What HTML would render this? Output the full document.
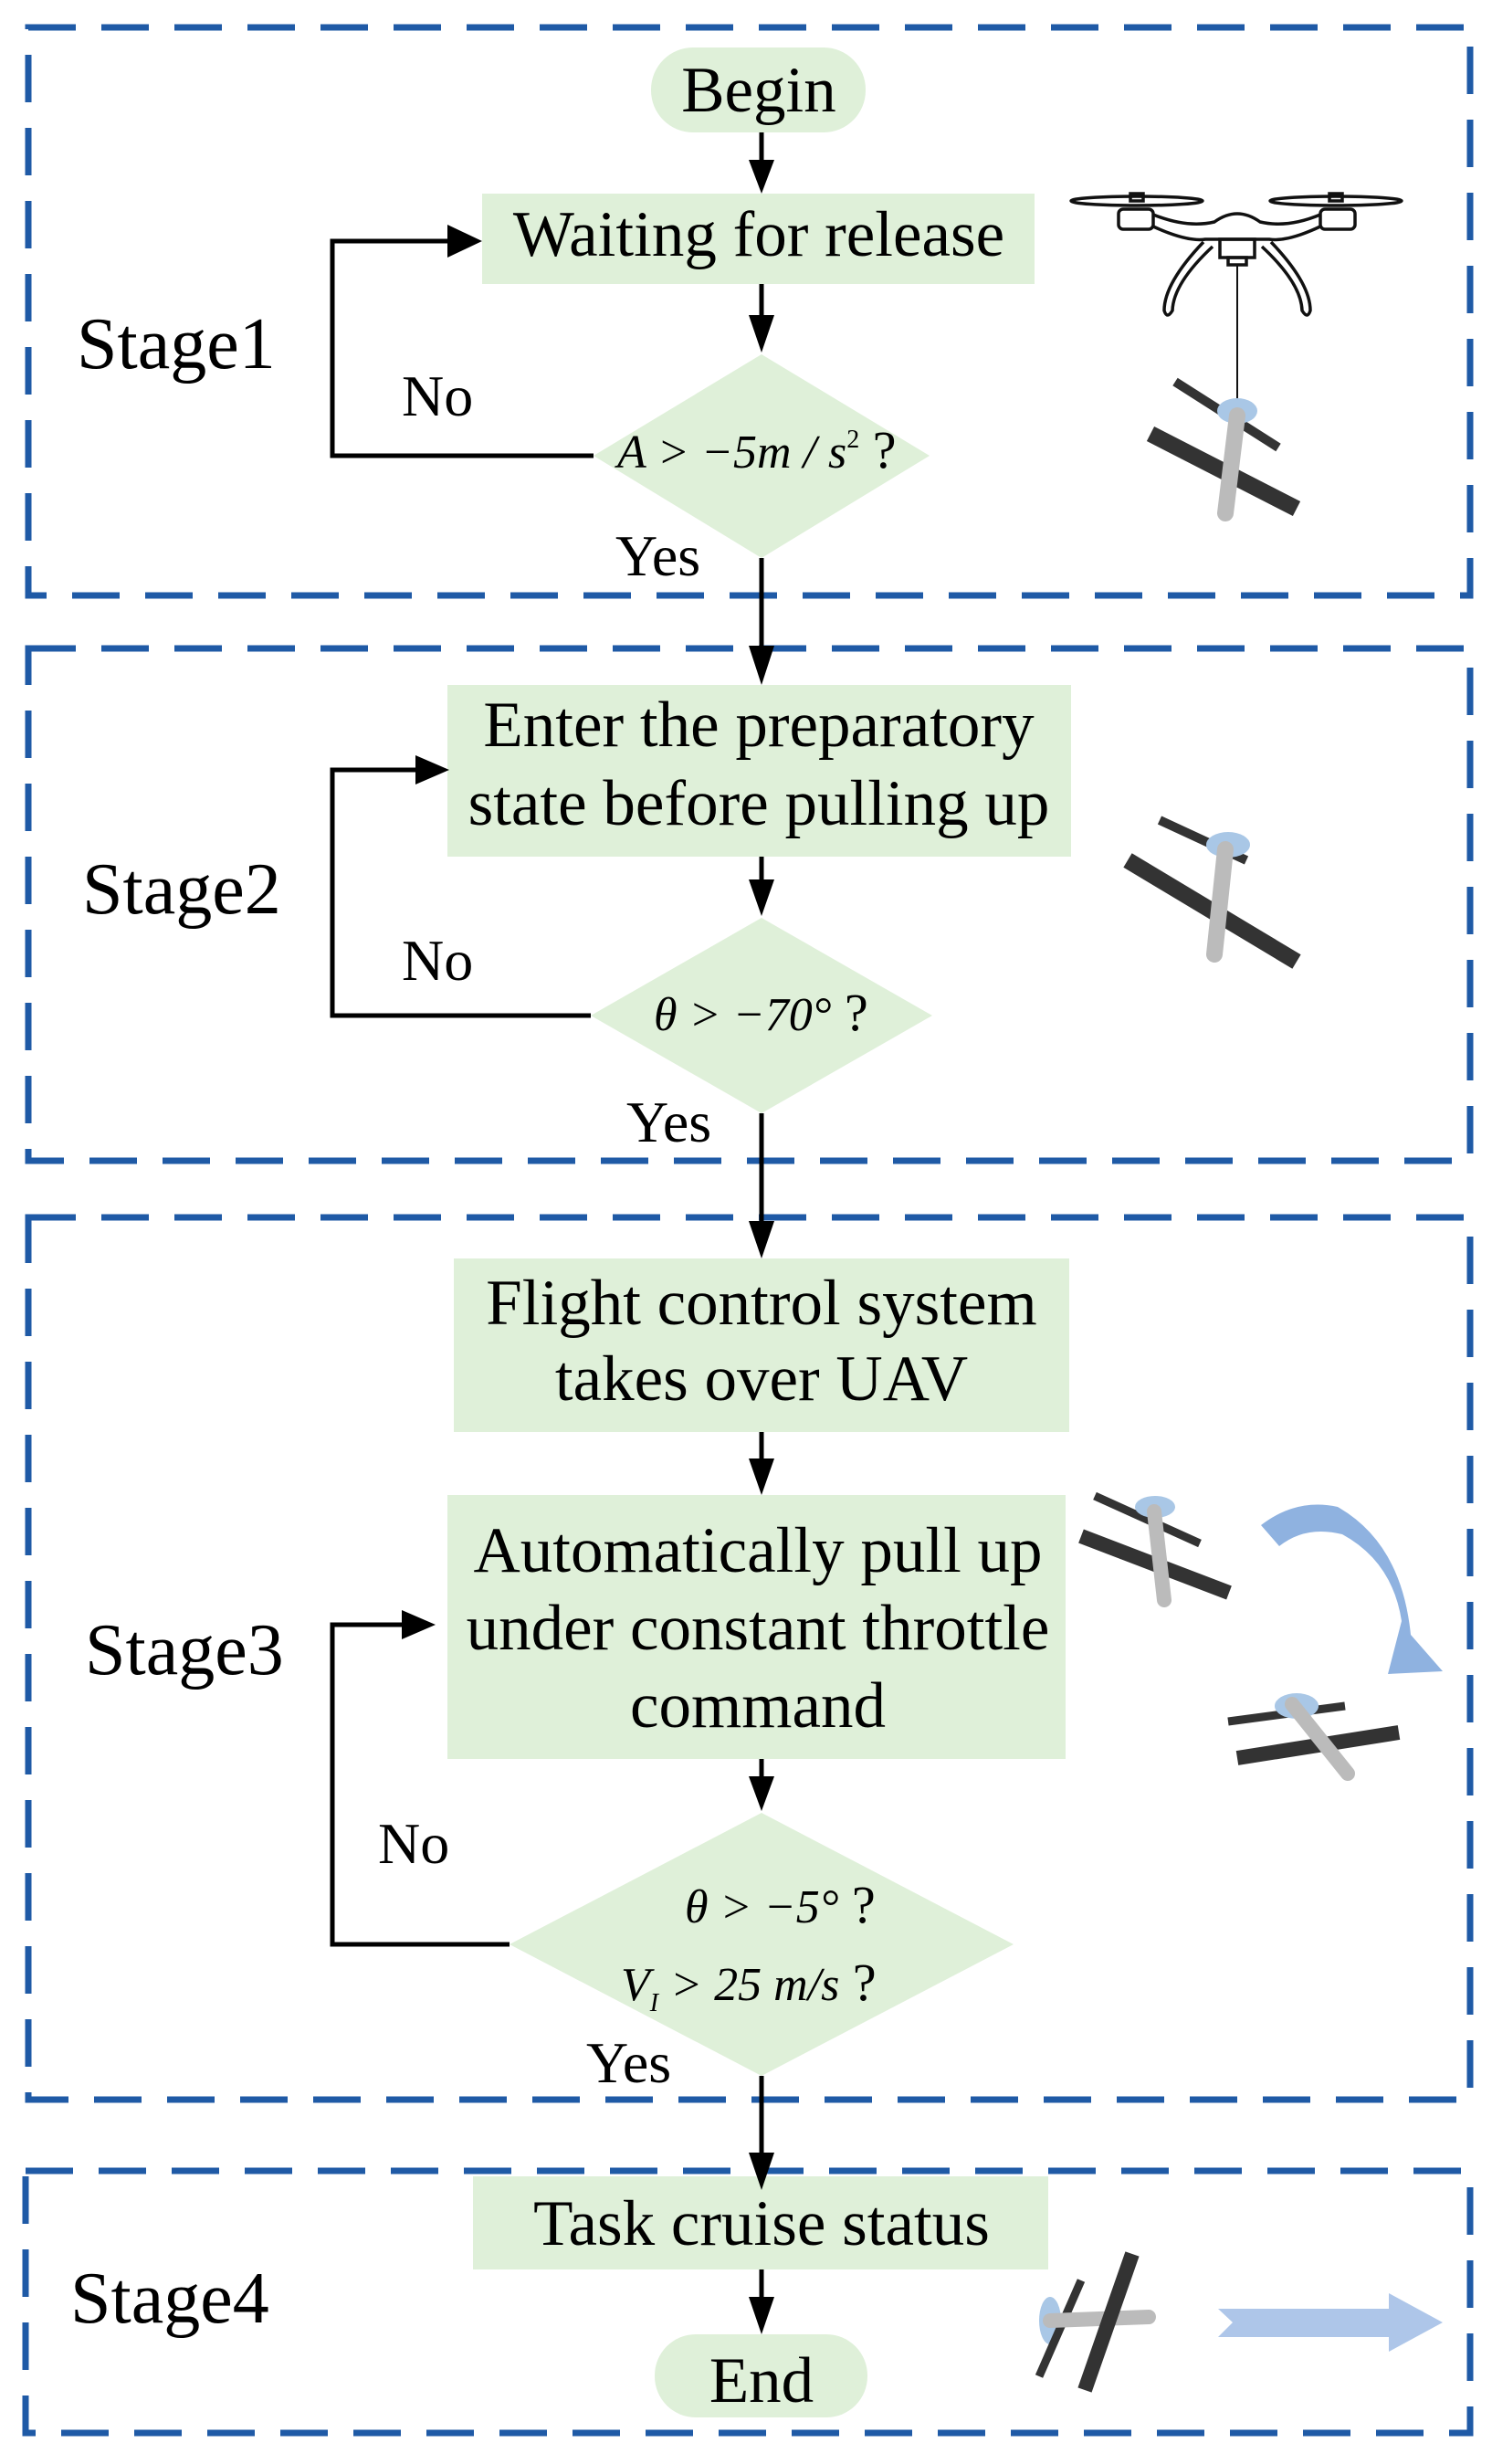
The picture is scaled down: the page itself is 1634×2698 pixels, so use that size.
<!DOCTYPE html>
<html><head><meta charset="utf-8"><style>
html,body{margin:0;padding:0;background:#fff;}
svg{display:block;}
text{font-family:"Liberation Serif",serif;fill:#000;}
</style></head><body>
<svg width="1634" height="2698" viewBox="0 0 1634 2698" xmlns="http://www.w3.org/2000/svg">

<!-- stage boxes -->
<g fill="none" stroke="#1f5aa6" stroke-width="7" stroke-dasharray="52 28">
  <rect x="31" y="30" width="1579" height="622"/>
  <rect x="31" y="710" width="1579" height="561"/>
  <rect x="31" y="1333" width="1579" height="966"/>
  <rect x="28" y="2377" width="1582" height="287"/>
</g>

<!-- nodes -->
<g fill="#dff0d9">
  <rect x="713" y="52" width="235" height="93" rx="46"/>
  <rect x="528" y="212" width="605" height="99"/>
  <polygon points="834,388 1018,499 834,611 650,499"/>
  <rect x="490" y="750" width="683" height="188"/>
  <polygon points="834,1005 1021,1112 834,1219 647,1112"/>
  <rect x="497" y="1378" width="674" height="190"/>
  <rect x="490" y="1637" width="677" height="289"/>
  <polygon points="834,1985 1110,2129 834,2273 558,2129"/>
  <rect x="518" y="2383" width="630" height="102"/>
  <rect x="717" y="2556" width="233" height="91" rx="45"/>
</g>

<!-- connectors -->
<g stroke="#000" stroke-width="5" fill="none">
  <line x1="834" y1="145" x2="834" y2="180"/>
  <line x1="834" y1="311" x2="834" y2="350"/>
  <line x1="834" y1="611" x2="834" y2="712"/>
  <line x1="834" y1="938" x2="834" y2="968"/>
  <line x1="834" y1="1219" x2="834" y2="1342"/>
  <line x1="834" y1="1568" x2="834" y2="1602"/>
  <line x1="834" y1="1926" x2="834" y2="1950"/>
  <line x1="834" y1="2273" x2="834" y2="2362"/>
  <line x1="834" y1="2485" x2="834" y2="2520"/>
  <polyline points="650,499 364,499 364,264 495,264"/>
  <polyline points="647,1112 364,1112 364,843 460,843"/>
  <polyline points="558,2129 364,2129 364,1779 445,1779"/>
</g>
<g fill="#000">
  <polygon points="820,175 848,175 834,212"/>
  <polygon points="820,345 848,345 834,386"/>
  <polygon points="820,707 848,707 834,750"/>
  <polygon points="820,963 848,963 834,1003"/>
  <polygon points="820,1337 848,1337 834,1378"/>
  <polygon points="820,1597 848,1597 834,1637"/>
  <polygon points="820,1945 848,1945 834,1983"/>
  <polygon points="820,2357 848,2357 834,2398"/>
  <polygon points="820,2515 848,2515 834,2556"/>
  <polygon points="490,246 528,264 490,282"/>
  <polygon points="455,827 492,843 455,859"/>
  <polygon points="440,1763 477,1779 440,1795"/>
</g>

<!-- texts -->
<g font-size="71" text-anchor="middle">
  <text x="831" y="122">Begin</text>
  <text x="831" y="280">Waiting for release</text>
  <text x="831" y="817">Enter the preparatory</text>
  <text x="831" y="903">state before pulling up</text>
  <text x="834" y="1450">Flight control system</text>
  <text x="834" y="1533">takes over UAV</text>
  <text x="830" y="1721">Automatically pull up</text>
  <text x="830" y="1806">under constant throttle</text>
  <text x="830" y="1891">command</text>
  <text x="834" y="2458">Task cruise status</text>
  <text x="834" y="2630">End</text>
</g>
<g font-size="64">
  <text x="440" y="455">No</text>
  <text x="674" y="630">Yes</text>
  <text x="440" y="1073">No</text>
  <text x="686" y="1250">Yes</text>
  <text x="414" y="2040">No</text>
  <text x="642" y="2280">Yes</text>
</g>
<g font-size="80">
  <text x="84" y="403">Stage1</text>
  <text x="90" y="1000">Stage2</text>
  <text x="93" y="1833">Stage3</text>
  <text x="77" y="2543">Stage4</text>
</g>
<g font-size="52" font-style="italic">
  <text x="676" y="512">A &gt; −5<tspan>m</tspan> / s<tspan font-size="28" dy="-22" font-style="normal">2</tspan><tspan font-style="normal" font-size="58" dy="22"> ?</tspan></text>
  <text x="716" y="1128">θ &gt; −70°<tspan font-style="normal" font-size="58"> ?</tspan></text>
  <text x="750" y="2105">θ &gt; −5°<tspan font-style="normal" font-size="58"> ?</tspan></text>
  <text x="680" y="2190">V<tspan font-size="28" dy="12">I</tspan><tspan dy="-12"> &gt; 25 m/s</tspan><tspan font-style="normal" font-size="58"> ?</tspan></text>
</g>

<!-- quadcopter -->
<g fill="none" stroke="#111" stroke-width="3.5">
  <ellipse cx="1245" cy="220" rx="72" ry="5"/>
  <ellipse cx="1463" cy="220" rx="72" ry="5"/>
  <rect x="1238" y="212" width="14" height="8"/>
  <rect x="1456" y="212" width="14" height="8"/>
  <rect x="1225" y="229" width="38" height="22" rx="5"/>
  <rect x="1446" y="229" width="38" height="22" rx="5"/>
  <path d="M1263,235 Q1300,250 1330,243 Q1355,225 1380,243 Q1410,250 1446,235"/>
  <path d="M1263,248 Q1300,265 1320,262 L1390,262 Q1410,265 1446,248"/>
  <rect x="1336" y="262" width="38" height="20"/>
  <rect x="1345" y="282" width="20" height="8"/>
  <path d="M1318,265 Q1275,310 1275,340 Q1278,350 1284,340 Q1285,310 1328,270"/>
  <path d="M1392,265 Q1435,310 1435,340 Q1432,350 1426,340 Q1425,310 1382,270"/>
</g>
<line x1="1355" y1="290" x2="1355" y2="447" stroke="#111" stroke-width="2"/>
<!-- stage1 uav -->
<g>
  <line x1="1287" y1="418" x2="1400" y2="490" stroke="#333" stroke-width="10"/>
  <line x1="1260" y1="475" x2="1420" y2="557" stroke="#333" stroke-width="18"/>
  <ellipse cx="1355" cy="450" rx="22" ry="14" fill="#a9c7e6"/>
  <line x1="1355" y1="455" x2="1342" y2="562" stroke="#bbb" stroke-width="18" stroke-linecap="round"/>
</g>
<!-- stage2 uav -->
<g>
  <line x1="1270" y1="898" x2="1365" y2="942" stroke="#333" stroke-width="10"/>
  <line x1="1235" y1="942" x2="1420" y2="1053" stroke="#333" stroke-width="18"/>
  <ellipse cx="1345" cy="925" rx="24" ry="14" fill="#a9c7e6"/>
  <line x1="1342" y1="930" x2="1330" y2="1045" stroke="#bbb" stroke-width="18" stroke-linecap="round"/>
</g>
<!-- stage3 uav a -->
<g>
  <line x1="1199" y1="1638" x2="1314" y2="1690" stroke="#333" stroke-width="9"/>
  <line x1="1184" y1="1682" x2="1346" y2="1744" stroke="#333" stroke-width="16"/>
  <ellipse cx="1265" cy="1650" rx="22" ry="12" fill="#a9c7e6"/>
  <line x1="1264" y1="1655" x2="1275" y2="1752" stroke="#bbb" stroke-width="16" stroke-linecap="round"/>
</g>
<!-- curved arrow -->
<path d="M1381,1670 Q1420,1640 1465,1650 Q1535,1690 1545,1790 L1580,1830 L1520,1833 L1535,1775 Q1525,1710 1470,1680 Q1430,1670 1401,1693 Z" fill="#8fb2e0"/>
<!-- stage3 uav b -->
<g>
  <line x1="1345" y1="1885" x2="1473" y2="1868" stroke="#333" stroke-width="9"/>
  <line x1="1355" y1="1925" x2="1532" y2="1897" stroke="#333" stroke-width="16"/>
  <ellipse cx="1420" cy="1868" rx="24" ry="14" fill="#a9c7e6"/>
  <line x1="1415" y1="1866" x2="1476" y2="1942" stroke="#bbb" stroke-width="16" stroke-linecap="round"/>
</g>
<!-- stage4 uav -->
<g>
  <ellipse cx="1150" cy="2541" rx="12" ry="26" fill="#a9c7e6"/>
  <line x1="1184" y1="2497" x2="1138" y2="2602" stroke="#333" stroke-width="9"/>
  <line x1="1150" y1="2541" x2="1258" y2="2537" stroke="#bbb" stroke-width="16" stroke-linecap="round"/>
  <line x1="1240" y1="2468" x2="1188" y2="2617" stroke="#333" stroke-width="16"/>
</g>
<polygon points="1334,2528 1521,2528 1521,2511 1580,2543 1521,2575 1521,2559 1334,2559 1350,2543" fill="#aec6e9"/>
</svg>
</body></html>
